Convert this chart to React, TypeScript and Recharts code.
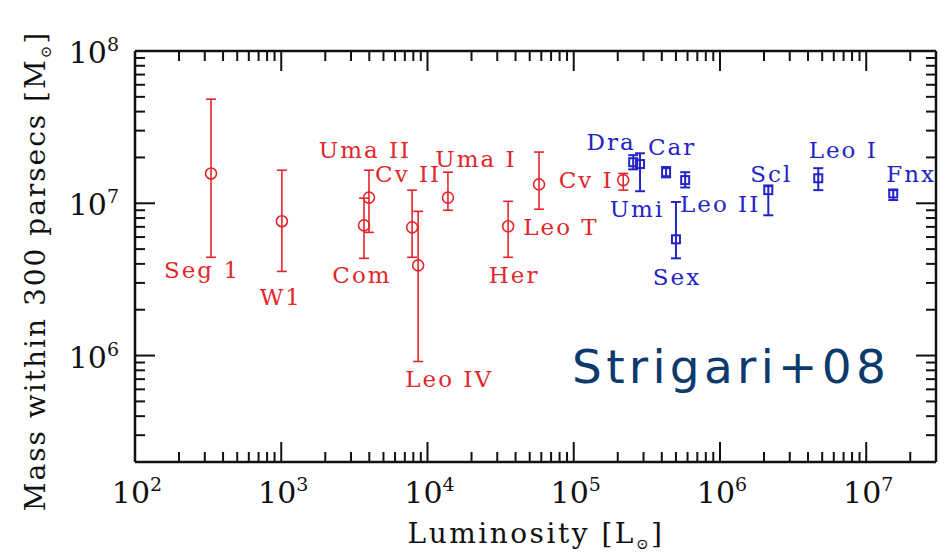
import { ScatterChart, Scatter, XAxis, YAxis, ErrorBar, ReferenceLine } from 'recharts';

// ultra-faint dwarfs (red circles)
const RED_NAMES = ['Seg 1', 'W1', 'Com', 'Uma II', 'Cv II', 'Leo IV', 'Uma I', 'Her', 'Leo T', 'Cv I'];
const RED_LUM = [331, 1010, 3680, 3980, 7850, 8630, 13800, 35600, 57900, 218000];
const RED_MASS = [1.57e7, 7.62e6, 7.16e6, 1.09e7, 6.95e6, 3.91e6, 1.09e7, 7.06e6, 1.33e7, 1.42e7];
const RED_MASS_HI = [4.83e7, 1.65e7, 1.08e7, 1.65e7, 1.22e7, 8.85e6, 1.6e7, 1.03e7, 2.17e7, 1.57e7];
const RED_MASS_LO = [4.42e6, 3.57e6, 4.35e6, 6.44e6, 4.42e6, 9.14e5, 9.0e6, 4.42e6, 9.14e6, 1.22e7];

// classical dwarfs (blue squares)
const BLUE_NAMES = ['Dra', 'Umi', 'Car', 'Sex', 'Leo II', 'Scl', 'Leo I', 'Fnx'];
const BLUE_LUM = [2.55e5, 2.84e5, 4.28e5, 5.0e5, 5.78e5, 2.14e6, 4.7e6, 1.53e7];
const BLUE_MASS = [1.86e7, 1.81e7, 1.6e7, 5.8e6, 1.42e7, 1.22e7, 1.46e7, 1.16e7];
const BLUE_MASS_HI = [2.07e7, 2.13e7, 1.73e7, 1.02e7, 1.6e7, 1.31e7, 1.7e7, 1.22e7];
const BLUE_MASS_LO = [1.67e7, 1.2e7, 1.48e7, 4.35e6, 1.27e7, 8.34e6, 1.22e7, 1.05e7];

const X_MAJOR = [1e2, 1e3, 1e4, 1e5, 1e6, 1e7];
const X_EXP = ['2', '3', '4', '5', '6', '7'];
const Y_MAJOR = [1e6, 1e7, 1e8];
const Y_EXP = ['6', '7', '8'];
const MINOR_MULT = [2, 3, 4, 5, 6, 7, 8, 9];

const X_DOMAIN = [100, 3e7];
const Y_DOMAIN = [2e5, 1e8];

// frame geometry (px)
const W = 946;
const H = 552;
const PLOT_TOP = 51;
const PLOT_RIGHT = 936;
const PLOT_LEFT = 135;
const X_AXIS_H = 90;

// label placement relative to the marker (px): [dx, dy of baseline]
const LABEL_OFFSETS: Record<string, [number, number]> = {
  'Seg 1': [-9, 105], 'W1': [-1, 84], 'Com': [-2, 58], 'Uma II': [-4, -40], 'Cv II': [-4, -45],
  'Leo IV': [31, 122], 'Uma I': [28, -31], 'Her': [6, 57], 'Leo T': [22, 51], 'Cv I': [-37, 8],
  'Dra': [-22, -12], 'Umi': [-3, 53], 'Car': [6, -17], 'Sex': [1, 46], 'Leo II': [35, 32],
  'Scl': [3, -8], 'Leo I': [25, -20], 'Fnx': [18, -11],
};

const RED = '#e2262b';
const BLUE = '#2424c6';
const INK = '#111';
const SERIF = "'DejaVu Serif', serif";

const buildTicks = (major: number[], lo: number, hi: number) => {
  const t: number[] = [];
  major.forEach((m) => {
    if (m >= lo && m <= hi) t.push(m);
    MINOR_MULT.forEach((k) => {
      const v = m * k;
      if (v >= lo && v <= hi) t.push(v);
    });
  });
  const d0 = major[0] / 10;
  MINOR_MULT.forEach((k) => { if (d0 * k >= lo && d0 * k <= hi) t.push(d0 * k); });
  return t.sort((a, b) => a - b);
};

const X_TICKS = buildTicks(X_MAJOR, X_DOMAIN[0], X_DOMAIN[1]);
const Y_TICKS = buildTicks(Y_MAJOR, Y_DOMAIN[0], Y_DOMAIN[1]);

const redData = RED_NAMES.map((name, i) => ({
  name, x: RED_LUM[i], y: RED_MASS[i], err: [RED_MASS[i] - RED_MASS_LO[i], RED_MASS_HI[i] - RED_MASS[i]],
}));
const blueData = BLUE_NAMES.map((name, i) => ({
  name, x: BLUE_LUM[i], y: BLUE_MASS[i], err: [BLUE_MASS[i] - BLUE_MASS_LO[i], BLUE_MASS_HI[i] - BLUE_MASS[i]],
}));

const majorIdx = (v: number, major: number[]) => major.findIndex((m) => Math.abs(m - v) / m < 1e-9);
const tickLen = (v: number, major: number[]) => (majorIdx(v, major) >= 0 ? 20 : 10);

function Pow({ x, y, exp, anchor }: { x: number; y: number; exp: string; anchor: 'middle' | 'end' }) {
  return (
    <text x={x} y={y} textAnchor={anchor} fontFamily={SERIF} fontSize={30} fill={INK}>
      10<tspan dy={-12} fontSize={19}>{exp}</tspan>
    </text>
  );
}

function BottomTick(p: any) {
  const { x, y, payload } = p;
  const i = majorIdx(payload.value, X_MAJOR);
  return (
    <g>
      <line x1={x} x2={x} y1={y} y2={y - tickLen(payload.value, X_MAJOR)} stroke={INK} strokeWidth={2} />
      {i >= 0 && <Pow x={x + 2} y={y + 41} exp={X_EXP[i]} anchor="middle" />}
    </g>
  );
}

function LeftTick(p: any) {
  const { x, y, payload } = p;
  const i = majorIdx(payload.value, Y_MAJOR);
  return (
    <g>
      <line x1={x} x2={x + tickLen(payload.value, Y_MAJOR)} y1={y} y2={y} stroke={INK} strokeWidth={2} />
      {i >= 0 && <Pow x={x - 16} y={y + 12} exp={Y_EXP[i]} anchor="end" />}
    </g>
  );
}

// tick stubs only (used by the mirrored overlay charts for the top / right edges)
function StubX(p: any) {
  const { x, y, payload } = p;
  return <line x1={x} x2={x} y1={y} y2={y - tickLen(payload.value, X_MAJOR)} stroke={INK} strokeWidth={2} />;
}
function StubY(p: any) {
  const { x, y, payload } = p;
  return <line x1={x} x2={x + tickLen(payload.value, Y_MAJOR)} y1={y} y2={y} stroke={INK} strokeWidth={2} />;
}

const makeShape = (kind: 'circle' | 'square', color: string) => (p: any) => {
  const { cx, cy, payload } = p;
  const [dx, dy] = LABEL_OFFSETS[payload.name] || [0, 0];
  return (
    <g>
      {kind === 'circle' ? (
        <circle cx={cx} cy={cy} r={5.5} fill="none" stroke={color} strokeWidth={1.6} />
      ) : (
        <rect x={cx - 4} y={cy - 4} width={8} height={8} fill="none" stroke={color} strokeWidth={2} />
      )}
      <text x={cx + dx} y={cy + dy} textAnchor="middle" fontFamily={SERIF} fontSize={23}
        letterSpacing={2} fill={color}>
        {payload.name}
      </text>
    </g>
  );
};

const noMark = () => <g />;

const axisLine = { stroke: INK, strokeWidth: 2.5 };
const overlay = { position: 'absolute' as const, left: 0, top: 0, width: W, height: H, pointerEvents: 'none' as const };

export default function App() {
  return (
    <div style={{ position: 'absolute', left: 0, top: 0, width: W, height: H, background: '#fff' }}>
      <ScatterChart width={W} height={H} margin={{ top: PLOT_TOP, right: W - PLOT_RIGHT, bottom: 0, left: 0 }}>
        <XAxis type="number" dataKey="x" scale="log" domain={X_DOMAIN} allowDataOverflow ticks={X_TICKS}
          interval={0} tickSize={0} tickMargin={0} tickLine={false} height={X_AXIS_H} axisLine={axisLine}
          tick={(p: any) => <BottomTick {...p} />} />
        <YAxis type="number" dataKey="y" scale="log" domain={Y_DOMAIN} allowDataOverflow ticks={Y_TICKS}
          interval={0} tickSize={0} tickMargin={0} tickLine={false} width={PLOT_LEFT} axisLine={axisLine}
          tick={(p: any) => <LeftTick {...p} />} />
        {/* top and right edges of the frame */}
        <ReferenceLine y={Y_DOMAIN[1]} stroke={INK} strokeWidth={2.5} />
        <ReferenceLine x={X_DOMAIN[1]} stroke={INK} strokeWidth={2.5} />
        <Scatter data={redData} isAnimationActive={false} shape={makeShape('circle', RED)}>
          <ErrorBar dataKey="err" direction="y" width={5} stroke={RED} strokeWidth={1.6} isAnimationActive={false} />
        </Scatter>
        <Scatter data={blueData} isAnimationActive={false} shape={makeShape('square', BLUE)}>
          <ErrorBar dataKey="err" direction="y" width={5} stroke={BLUE} strokeWidth={2} isAnimationActive={false} />
        </Scatter>
      </ScatterChart>

      {/* top edge ticks: same x axis, drawn as a bottom axis and flipped vertically */}
      <div style={{ ...overlay, transform: 'scaleY(-1)' }}>
        <ScatterChart width={W} height={H} margin={{ top: 10, right: W - PLOT_RIGHT, bottom: 0, left: PLOT_LEFT }}>
          <XAxis type="number" dataKey="x" scale="log" domain={X_DOMAIN} allowDataOverflow ticks={X_TICKS}
            interval={0} tickSize={0} tickMargin={0} tickLine={false} axisLine={false} height={PLOT_TOP}
            tick={(p: any) => <StubX {...p} />} />
          <YAxis type="number" dataKey="y" scale="log" domain={Y_DOMAIN} allowDataOverflow hide />
          <Scatter data={blueData} isAnimationActive={false} shape={noMark} />
        </ScatterChart>
      </div>

      {/* right edge ticks: same y axis, drawn as a left axis and flipped horizontally */}
      <div style={{ ...overlay, transform: 'scaleX(-1)' }}>
        <ScatterChart width={W} height={H} margin={{ top: PLOT_TOP, right: PLOT_LEFT, bottom: X_AXIS_H, left: 0 }}>
          <XAxis type="number" dataKey="x" scale="log" domain={X_DOMAIN} allowDataOverflow hide />
          <YAxis type="number" dataKey="y" scale="log" domain={Y_DOMAIN} allowDataOverflow ticks={Y_TICKS}
            interval={0} tickSize={0} tickMargin={0} tickLine={false} axisLine={false} width={W - PLOT_RIGHT}
            tick={(p: any) => <StubY {...p} />} />
          <Scatter data={blueData} isAnimationActive={false} shape={noMark} />
        </ScatterChart>
      </div>

      <svg width={W} height={H} style={overlay}>
        <text x={536} y={543} textAnchor="middle" fontFamily={SERIF} fontSize={28} letterSpacing={2.5} fill={INK}>
          Luminosity [L<tspan dy={6} fontSize={15}>⊙</tspan><tspan dy={-6}>]</tspan>
        </text>
        <text transform="translate(45,271) rotate(-90)" textAnchor="middle" fontFamily={SERIF} fontSize={28}
          letterSpacing={2} fill={INK}>
          Mass within 300 parsecs [M<tspan dy={6} fontSize={15}>⊙</tspan><tspan dy={-6}>]</tspan>
        </text>
        <text x={572} y={383} fontFamily="'DejaVu Sans', sans-serif" fontSize={47} letterSpacing={4.3} fill="#0c3a6c">
          Strigari+08
        </text>
      </svg>
    </div>
  );
}
